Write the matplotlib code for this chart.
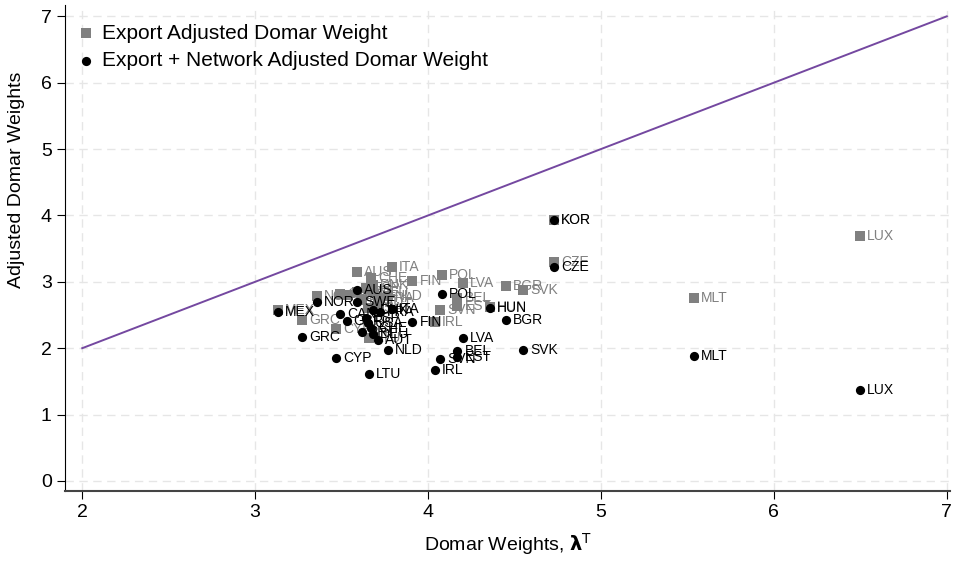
import matplotlib.pyplot as plt
import numpy as np

plt.rcParams['font.family'] = ['Liberation Sans', 'DejaVu Sans']

countries = ['MEX', 'NOR', 'GRC', 'CYP', 'AUS', 'SWE', 'CAN', 'GBR', 'ESP', 'DNK',
             'CHE', 'DEU', 'PRT', 'AUT', 'FRA', 'USA', 'ITA', 'NLD', 'LTU', 'FIN',
             'IRL', 'SVN', 'POL', 'BEL', 'EST', 'LVA', 'HUN', 'BGR', 'SVK', 'CZE',
             'KOR', 'MLT', 'LUX']
domar = [3.13, 3.36, 3.27, 3.47, 3.59, 3.59, 3.49, 3.53, 3.64, 3.68,
         3.67, 3.68, 3.62, 3.71, 3.72, 3.65, 3.79, 3.77, 3.66, 3.91,
         4.04, 4.07, 4.08, 4.17, 4.17, 4.20, 4.36, 4.45, 4.55, 4.73,
         4.73, 5.54, 6.50]
export_adj = [2.58, 2.79, 2.42, 2.29, 3.15, 2.85, 2.82, 2.80, 2.90, 2.95,
              3.05, 2.85, 2.72, 2.68, 2.76, 2.60, 3.22, 2.78, 2.15, 3.01,
              2.39, 2.58, 3.10, 2.76, 2.64, 2.98, 2.62, 2.94, 2.88, 3.30,
              3.93, 2.76, 3.69]
network_adj = [2.54, 2.70, 2.17, 1.85, 2.88, 2.70, 2.52, 2.41, 2.45, 2.58,
               2.30, 2.22, 2.25, 2.12, 2.55, 2.38, 2.59, 1.97, 1.61, 2.39,
               1.67, 1.84, 2.82, 1.96, 1.87, 2.15, 2.61, 2.42, 1.97, 3.22,
               3.93, 1.88, 1.37]
diag = [2, 7]

fig = plt.figure(figsize=(9.55, 5.61), dpi=100)
ax = fig.add_axes([0.068, 0.125, 0.927, 0.866])

ax.plot(diag, diag, color='#7448a0', lw=1.4, zorder=2)

ax.scatter(domar, export_adj, marker='s', s=55, color='#808080', lw=0,
           zorder=3, label='Export Adjusted Domar Weight')
for c, x, y in zip(countries, domar, export_adj):
    ax.annotate(c, (x, y), xytext=(5, 0), textcoords='offset points',
                va='center', ha='left', fontsize=10, color='#808080', zorder=3)

ax.scatter(domar, network_adj, marker='o', s=44, color='black', lw=0,
           zorder=4, label='Export + Network Adjusted Domar Weight')
for c, x, y in zip(countries, domar, network_adj):
    ax.annotate(c, (x, y), xytext=(5, 0), textcoords='offset points',
                va='center', ha='left', fontsize=10, color='black', zorder=4)

ax.set_xlim(1.9, 7.02)
ax.set_ylim(-0.15, 7.17)
ax.set_xticks(range(2, 8))
ax.set_yticks(range(0, 8))
ax.tick_params(labelsize=14, length=6, direction='out')
ax.grid(True, color='#e6e6e6', ls=(0, (6, 4)), lw=1)
ax.set_axisbelow(True)
for s in ['top', 'right']:
    ax.spines[s].set_visible(False)
ax.spines['bottom'].set_linewidth(1.5)
ax.spines['bottom'].set_color('#444444')

ax.set_xlabel(r'Domar Weights, $\boldsymbol{\lambda}^{\mathsf{T}}$', fontsize=14,
              labelpad=7)
ax.set_ylabel('Adjusted Domar Weights', fontsize=14)
ax.yaxis.set_label_coords(-0.045, 0.64)

ax.legend(loc='upper left', bbox_to_anchor=(-0.01, 1.0), frameon=False,
          fontsize=15, handletextpad=0.2, borderaxespad=0.5,
          labelspacing=0.4, handlelength=1.1)

plt.savefig('out.png', dpi=100)
